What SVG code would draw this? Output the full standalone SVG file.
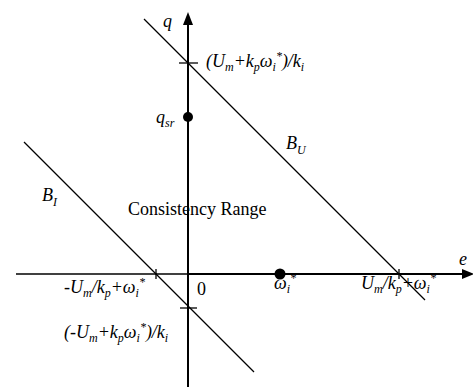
<svg xmlns="http://www.w3.org/2000/svg" width="473" height="387" viewBox="0 0 473 387">
<style>
.t{font-family:"Liberation Serif","Times New Roman",serif;font-size:18px;font-style:italic;fill:#000}
.r{font-family:"Liberation Serif","Times New Roman",serif;font-size:18px;fill:#000}
.s{font-size:12px}
.ax{stroke:#000;stroke-width:2;fill:none}
.ln{stroke:#000;stroke-width:1.3;fill:none}
.tk{stroke:#000;stroke-width:1.3}
</style>
<rect width="473" height="387" fill="#fff"/>
<g id="axes">
<line class="ax" x1="188" y1="387" x2="188" y2="22"/>
<polygon points="188,12 183,25 193,25" fill="#000"/>
<line class="ax" x1="16" y1="274" x2="463" y2="274" style="stroke-width:1.5"/>
<line class="ax" x1="188" y1="274" x2="463" y2="274"/>
<polygon points="474,274 462,269 462,279" fill="#000"/>
</g>
<g id="connectors">
<line id="BU-line" class="ln" x1="144" y1="19" x2="425" y2="300"/>
<line id="BI-line" class="ln" x1="24" y1="142" x2="254" y2="372"/>
<line class="tk" x1="179" y1="63" x2="198" y2="63"/>
<line class="tk" x1="180" y1="308" x2="197" y2="308"/>
<line class="tk" x1="156" y1="269" x2="156" y2="279"/>
<line class="tk" x1="399" y1="269" x2="399" y2="279"/>
</g>
<g id="q-axis-label"><text class="t" x="163" y="27">q</text></g>
<g id="e-axis-label"><text class="t" x="459" y="265">e</text></g>
<g id="upper-intercept"><text class="t" x="206" y="67">(U<tspan class="s" dy="4">m</tspan><tspan dy="-4">+k</tspan><tspan class="s" dy="4">p</tspan><tspan dy="-4">ω</tspan><tspan class="s" dy="4">i</tspan><tspan class="s" dy="-11">*</tspan><tspan dy="7">)/k</tspan><tspan class="s" dy="4">i</tspan></text></g>
<g id="qsr"><circle cx="188" cy="117" r="5" fill="#000"/><text class="t" x="156" y="123">q<tspan class="s" dy="4">sr</tspan></text></g>
<g id="BU"><text class="t" x="286" y="149">B<tspan class="s" dy="5">U</tspan></text></g>
<g id="BI"><text class="t" x="42" y="201">B<tspan class="s" dy="5">I</tspan></text></g>
<g id="range"><text class="r" x="128" y="215">Consistency Range</text></g>
<g id="neg-e-intercept"><text class="t" x="64" y="293">-U<tspan class="s" dy="4">m</tspan><tspan dy="-4">/k</tspan><tspan class="s" dy="4">p</tspan><tspan dy="-4">+ω</tspan><tspan class="s" dy="4">i</tspan><tspan class="s" dy="-11">*</tspan></text></g>
<g id="origin"><text class="r" x="197" y="295">0</text></g>
<g id="omega"><circle cx="280" cy="274" r="5.5" fill="#000"/><text class="t" x="274" y="289">ω<tspan class="s" dy="4">i</tspan><tspan class="s" dy="-11">*</tspan></text></g>
<g id="pos-e-intercept"><text class="t" x="361" y="289">U<tspan class="s" dy="4">m</tspan><tspan dy="-4">/k</tspan><tspan class="s" dy="4">p</tspan><tspan dy="-4">+ω</tspan><tspan class="s" dy="4">i</tspan><tspan class="s" dy="-11">*</tspan></text></g>
<g id="lower-intercept"><text class="t" x="64" y="338">(-U<tspan class="s" dy="4">m</tspan><tspan dy="-4">+k</tspan><tspan class="s" dy="4">p</tspan><tspan dy="-4">ω</tspan><tspan class="s" dy="4">i</tspan><tspan class="s" dy="-11">*</tspan><tspan dy="7">)/k</tspan><tspan class="s" dy="4">i</tspan></text></g>
</svg>
